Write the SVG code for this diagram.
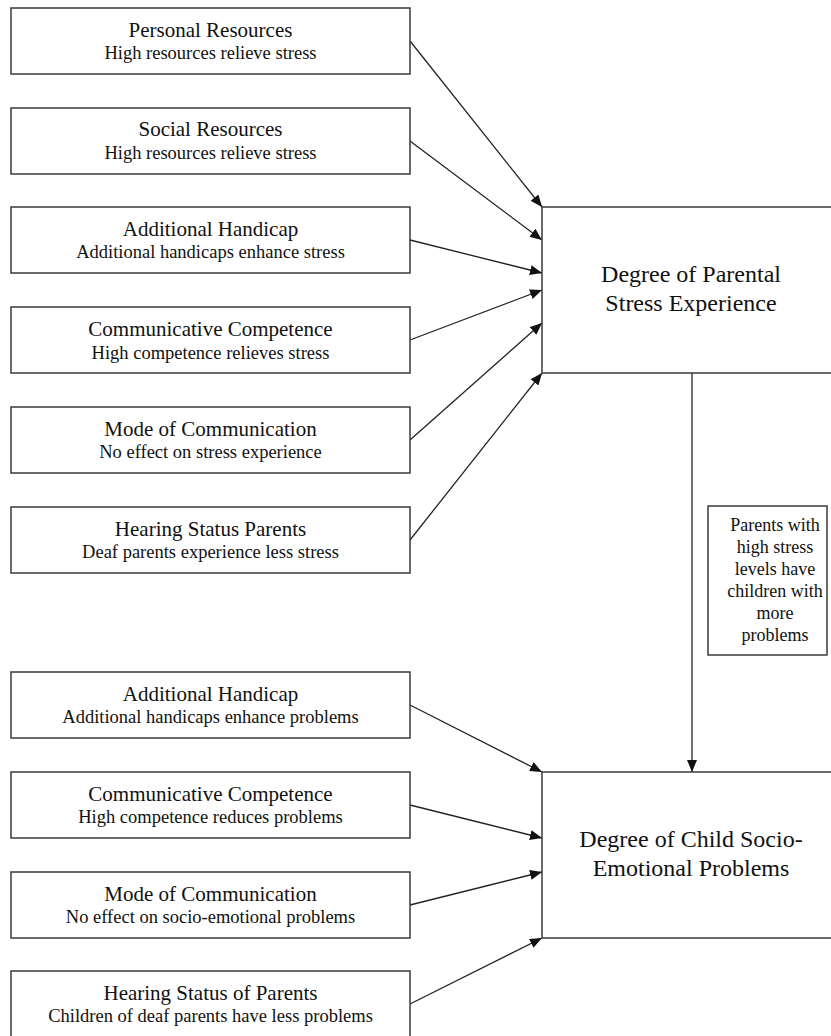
<svg xmlns="http://www.w3.org/2000/svg" width="831" height="1036" viewBox="0 0 831 1036">
<style>
.box{fill:#fff;stroke:#3a3a3a;stroke-width:1.5}
.t{font-family:"Liberation Serif","Times New Roman",serif;fill:#111;text-anchor:middle}
.h{font-size:21px}
.s{font-size:18.5px}
.b{font-size:24px}
.l{font-size:18px}
.c{stroke:#222;stroke-width:1.3;fill:none;marker-end:url(#ah)}
</style>
<defs>
<marker id="ah" markerUnits="userSpaceOnUse" viewBox="0 0 12 10" refX="12" refY="5" markerWidth="12" markerHeight="10" orient="auto">
<path d="M0,0 L12,5 L0,10 z" fill="#111"/>
</marker>
</defs>
<rect width="831" height="1036" fill="#fff"/>
<g id="connectors">
<line class="c" x1="410" y1="41" x2="542" y2="207"/>
<line class="c" x1="410" y1="141" x2="542" y2="240"/>
<line class="c" x1="410" y1="240" x2="542" y2="273"/>
<line class="c" x1="410" y1="340" x2="542" y2="290"/>
<line class="c" x1="410" y1="440" x2="542" y2="323"/>
<line class="c" x1="410" y1="540" x2="542" y2="373"/>
<line class="c" x1="692" y1="373" x2="692" y2="772"/>
<line class="c" x1="410" y1="705" x2="542" y2="772"/>
<line class="c" x1="410" y1="805" x2="542" y2="838"/>
<line class="c" x1="410" y1="905" x2="542" y2="872"/>
<line class="c" x1="410" y1="1004" x2="542" y2="938"/>
</g>
<g id="personal">
<rect class="box" x="11" y="8" width="399" height="66"/>
<text class="t h" x="210.5" y="37">Personal Resources</text>
<text class="t s" x="210.5" y="59">High resources relieve stress</text>
</g>
<g id="social">
<rect class="box" x="11" y="108" width="399" height="66"/>
<text class="t h" x="210.5" y="136">Social Resources</text>
<text class="t s" x="210.5" y="159">High resources relieve stress</text>
</g>
<g id="handicap1">
<rect class="box" x="11" y="207" width="399" height="66"/>
<text class="t h" x="210.5" y="236">Additional Handicap</text>
<text class="t s" x="210.5" y="258">Additional handicaps enhance stress</text>
</g>
<g id="competence1">
<rect class="box" x="11" y="307" width="399" height="66"/>
<text class="t h" x="210.5" y="336">Communicative Competence</text>
<text class="t s" x="210.5" y="359">High competence relieves stress</text>
</g>
<g id="mode1">
<rect class="box" x="11" y="407" width="399" height="66"/>
<text class="t h" x="210.5" y="436">Mode of Communication</text>
<text class="t s" x="210.5" y="458">No effect on stress experience</text>
</g>
<g id="hearing1">
<rect class="box" x="11" y="507" width="399" height="66"/>
<text class="t h" x="210.5" y="536">Hearing Status Parents</text>
<text class="t s" x="210.5" y="558">Deaf parents experience less stress</text>
</g>
<g id="stress">
<rect class="box" x="542" y="207" width="300" height="166"/>
<text class="t b" x="691" y="282">Degree of Parental</text>
<text class="t b" x="691" y="311">Stress Experience</text>
</g>
<g id="link-label">
<rect class="box" x="708" y="506" width="119" height="149"/>
<text class="t l" x="775" y="531">Parents with</text>
<text class="t l" x="775" y="553">high stress</text>
<text class="t l" x="775" y="575">levels have</text>
<text class="t l" x="775" y="597">children with</text>
<text class="t l" x="775" y="619">more</text>
<text class="t l" x="775" y="641">problems</text>
</g>
<g id="handicap2">
<rect class="box" x="11" y="672" width="399" height="66"/>
<text class="t h" x="210.5" y="701">Additional Handicap</text>
<text class="t s" x="210.5" y="723">Additional handicaps enhance problems</text>
</g>
<g id="competence2">
<rect class="box" x="11" y="772" width="399" height="66"/>
<text class="t h" x="210.5" y="801">Communicative Competence</text>
<text class="t s" x="210.5" y="823">High competence reduces problems</text>
</g>
<g id="mode2">
<rect class="box" x="11" y="872" width="399" height="66"/>
<text class="t h" x="210.5" y="901">Mode of Communication</text>
<text class="t s" x="210.5" y="923">No effect on socio-emotional problems</text>
</g>
<g id="hearing2">
<rect class="box" x="11" y="971" width="399" height="70"/>
<text class="t h" x="210.5" y="1000">Hearing Status of Parents</text>
<text class="t s" x="210.5" y="1022">Children of deaf parents have less problems</text>
</g>
<g id="child">
<rect class="box" x="542" y="772" width="300" height="166"/>
<text class="t b" x="691" y="847">Degree of Child Socio-</text>
<text class="t b" x="691" y="876">Emotional Problems</text>
</g>
</svg>
